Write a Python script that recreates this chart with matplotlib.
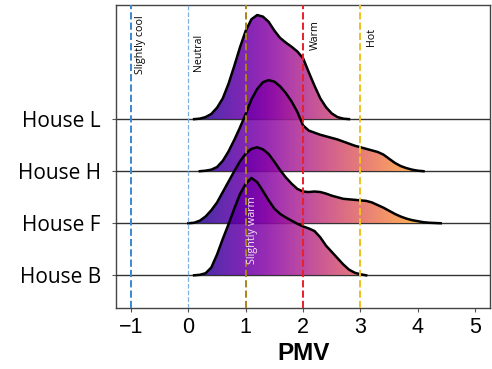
import numpy as np
import matplotlib
matplotlib.use("Agg")
import matplotlib.pyplot as plt

# houses from top row to bottom row
houses = ["House L", "House H", "House F", "House B"]

# density curves (PMV, height in row units)
pmv_L = [0.1, 0.2, 0.3, 0.4, 0.5, 0.6, 0.7, 0.8, 0.9, 1.0, 1.1, 1.2, 1.3, 1.4,
         1.5, 1.6, 1.7, 1.8, 1.9, 2.0, 2.1, 2.2, 2.3, 2.4, 2.5, 2.6, 2.7, 2.8]
dens_L = [0.0, 0.01, 0.04, 0.1, 0.22, 0.4, 0.68, 1.02, 1.38, 1.7, 1.92, 2.0, 1.97, 1.87,
          1.70, 1.56, 1.47, 1.39, 1.30, 1.17, 0.9, 0.64, 0.40, 0.23, 0.11, 0.04, 0.01, 0.0]

pmv_H = [0.2, 0.3, 0.4, 0.5, 0.6, 0.7, 0.8, 0.9, 1.0, 1.1, 1.2, 1.3, 1.4, 1.5,
         1.6, 1.7, 1.8, 1.9, 2.0, 2.1, 2.2, 2.3, 2.4, 2.5, 2.6, 2.7, 2.8, 2.9,
         3.0, 3.1, 3.2, 3.3, 3.4, 3.5, 3.6, 3.7, 3.8, 3.9, 4.0, 4.1]
dens_H = [0.0, 0.01, 0.03, 0.08, 0.2, 0.38, 0.6, 0.84, 1.1, 1.38, 1.58, 1.71, 1.75, 1.72,
          1.63, 1.5, 1.34, 1.14, 0.88, 0.78, 0.74, 0.70, 0.67, 0.64, 0.61, 0.57, 0.53, 0.49,
          0.46, 0.43, 0.40, 0.37, 0.32, 0.24, 0.16, 0.1, 0.06, 0.03, 0.01, 0.0]

pmv_F = [0.0, 0.1, 0.2, 0.3, 0.4, 0.5, 0.6, 0.7, 0.8, 0.9, 1.0, 1.1, 1.2, 1.3, 1.4,
         1.5, 1.6, 1.7, 1.8, 1.9, 2.0, 2.1, 2.2, 2.3, 2.4, 2.5, 2.6, 2.7, 2.8, 2.9,
         3.0, 3.1, 3.2, 3.3, 3.4, 3.5, 3.6, 3.7, 3.8, 3.9, 4.0, 4.1, 4.2, 4.3, 4.4]
dens_F = [0.0, 0.01, 0.05, 0.13, 0.25, 0.4, 0.6, 0.8, 1.0, 1.19, 1.34, 1.43, 1.46, 1.42, 1.33,
          1.18, 1.02, 0.88, 0.76, 0.66, 0.61, 0.6, 0.61, 0.6, 0.57, 0.53, 0.5, 0.47, 0.46, 0.45,
          0.44, 0.43, 0.4, 0.35, 0.3, 0.24, 0.18, 0.13, 0.09, 0.06, 0.04, 0.02, 0.01, 0.005, 0.0]

pmv_B = [0.1, 0.2, 0.3, 0.4, 0.5, 0.6, 0.7, 0.8, 0.9, 1.0, 1.1, 1.2, 1.3, 1.4, 1.5,
         1.6, 1.7, 1.8, 1.9, 2.0, 2.1, 2.2, 2.3, 2.4, 2.5, 2.6, 2.7, 2.8, 2.9, 3.0, 3.1]
dens_B = [0.0, 0.01, 0.04, 0.15, 0.4, 0.7, 0.98, 1.28, 1.56, 1.76, 1.87, 1.79, 1.62, 1.44, 1.28,
          1.18, 1.11, 1.05, 0.99, 0.94, 0.9, 0.85, 0.73, 0.57, 0.45, 0.33, 0.21, 0.11, 0.05, 0.02, 0.0]

curves = [(pmv_L, dens_L), (pmv_H, dens_H), (pmv_F, dens_F), (pmv_B, dens_B)]
offsets = [3, 2, 1, 0]

# thermal sensation reference lines
sens_values = [-1, 0, 1, 2, 3]
sens_colors = ["#3a88d0", "#7fb0e0", "#a8841a", "#e8202a", "#f0c020"]
sens_labels = ["Slightly cool", "Neutral", "Warm", "Hot"]
sens_label_x = [-0.84, 0.18, 2.22, 3.19]
sens_label_y = [4.44, 4.29, 4.62, 4.58]

xticks = [-1, 0, 1, 2, 3, 4, 5]

fig = plt.figure(figsize=(4.92, 3.69), dpi=100)
ax = fig.add_axes([0.236, 0.165, 0.76, 0.821])
xlim = (-1.26, 5.26)
ylim = (-0.63, 5.19)

grad = np.linspace(0, 1, 512).reshape(1, -1)
for i, ((px, dy), off) in enumerate(zip(curves, offsets)):
    z = 2 + i * 3
    ax.axhline(off, color="#333333", lw=1.0, zorder=z)
    px = np.array(px)
    dy = np.array(dy) + off
    poly = ax.fill_between(px, off, dy, facecolor="none", edgecolor="none", zorder=z + 1)
    img = ax.imshow(grad, extent=[0.0, 5.0, off, off + 2.2], aspect="auto",
                    cmap="plasma", vmin=0, vmax=1, alpha=0.85, zorder=z + 1,
                    origin="lower")
    img.set_clip_path(poly.get_paths()[0], transform=ax.transData)
    ax.plot(px, dy, color="black", lw=1.8, zorder=z + 2)

for v, c in zip(sens_values, sens_colors):
    ax.axvline(v, color=c, ls="--", lw=1.4 if v != 0 else 0.9, zorder=30)

for lab, lx, ly in zip(sens_labels, sens_label_x, sens_label_y):
    ax.text(lx, ly, lab, rotation=90, ha="center", va="center",
            fontsize=7.7, family="Open Sans", zorder=31)
ax.text(1.12, 0.87, "Slightly warm", rotation=90, ha="center", va="center",
        fontsize=7.8, family="Open Sans", color="#f4e4f4", zorder=31)

ax.set_xlim(*xlim)
ax.set_ylim(*ylim)
ax.set_xticks(xticks)
ax.set_xticklabels(["\u22121", "0", "1", "2", "3", "4", "5"], family="Liberation Sans", fontsize=15.5)
ax.set_yticks(offsets)
ax.set_yticklabels(houses, family="Open Sans", fontsize=15)
ax.set_xlabel("PMV", family="Liberation Sans", fontsize=17.5, fontweight="bold", labelpad=3)
ax.tick_params(axis="both", length=3, color="#555555")
ax.tick_params(axis="y", pad=8)
for s in ax.spines.values():
    s.set_color("#444444")
    s.set_linewidth(1.0)

fig.savefig("out.png", dpi=100)
